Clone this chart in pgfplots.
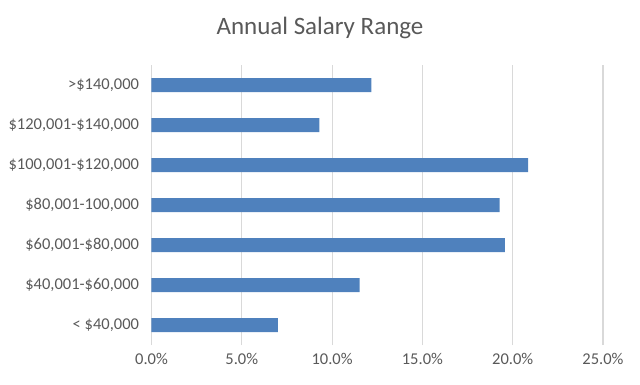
\documentclass[border=0pt]{standalone}
\usepackage{pgfplots}
\pgfplotsset{compat=1.18}
\usepackage{fontspec}
\setmainfont{Carlito}
\definecolor{barblue}{HTML}{4F81BD}
\definecolor{txtgray}{HTML}{595959}
\definecolor{gridgray}{HTML}{D9D9D9}
\begin{document}
\begin{tikzpicture}[x=1pt,y=1pt]
\useasboundingbox (0,0) rectangle (640,384);
\node[text=txtgray, font=\fontsize{25}{30}\selectfont] at (320,356) {Annual Salary Range};
\begin{axis}[
  at={(151.5pt,39pt)}, anchor=south west,
  scale only axis, width=451.5pt, height=280pt,
  xbar, bar width=14pt,
  xmin=0, xmax=25, ymin=-0.5, ymax=6.5,
  ytick={0,...,6},
  yticklabels={{< \$40,000},{\$40,001-\$60,000},{\$60,001-\$80,000},{\$80,001-100,000},{\$100,001-\$120,000},{\$120,001-\$140,000},{>\$140,000}},
  xtick={0,5,...,25},
  /pgf/number format/assume math mode=true,
  xticklabel={\pgfmathprintnumber[fixed,fixed zerofill,precision=1]{\tick}\%},
  xmajorgrids,
  grid style={gridgray, line width=1.2pt},
  axis line style={draw=none},
  major tick length=0pt,
  tick style={draw=none},
  ticklabel style={text=txtgray, font=\fontsize{16.5}{19}\selectfont},
  yticklabel style={xshift=-9pt},
  xticklabel style={yshift=-5pt},
]
\addplot[fill=barblue, draw=none] coordinates {
  (7.0,0) (11.53,1) (19.57,2) (19.28,3) (20.86,4) (9.29,5) (12.17,6)
};
\end{axis}
\end{tikzpicture}
\end{document}
